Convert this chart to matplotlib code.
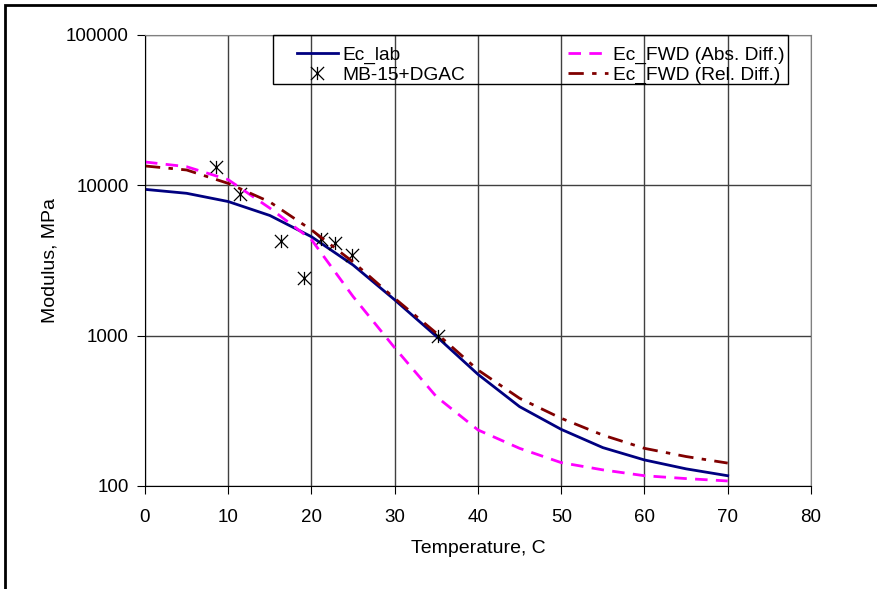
import matplotlib
matplotlib.use("Agg")
import matplotlib.pyplot as plt
from matplotlib.patches import Rectangle
from matplotlib.path import Path

plt.rcParams['font.family'] = ['Liberation Sans', 'DejaVu Sans']

temps = [0, 5, 10, 15, 20, 25, 30, 35, 40, 45, 50, 55, 60, 65, 70]
ec_lab = [9400, 8850, 7800, 6300, 4550, 2950, 1730, 990, 553, 337, 238, 180, 149, 130, 117]
ec_fwd_abs = [14300, 13300, 10900, 7050, 4350, 1820, 830, 393, 236, 178, 143, 128, 117, 112, 108]
ec_fwd_rel = [13450, 12650, 10300, 7750, 5050, 3090, 1770, 1040, 591, 383, 282, 218, 178, 157, 142]

mb_temp = [8.5, 11.4, 16.3, 19.1, 21.2, 22.8, 24.9, 35.2]
mb_mod = [13200, 8760, 4230, 2400, 4380, 4110, 3440, 995]

# excel style star: X with a vertical bar
star = Path([(-1, -1), (1, 1), (-1, 1), (1, -1), (0, -1), (0, 1)],
            [Path.MOVETO, Path.LINETO, Path.MOVETO, Path.LINETO, Path.MOVETO, Path.LINETO])

fig = plt.figure(figsize=(8.77, 5.89), dpi=100)
ax = fig.add_axes([0.1653, 0.1749, 0.7594, 0.7657])

# outer frame of the chart area
fig.patches.append(Rectangle((5 / 877, -0.1), 1.2, 1 - 5 / 589 + 0.1, transform=fig.transFigure,
                             fill=False, edgecolor='black', linewidth=2))

l1, = ax.plot(temps, ec_lab, color='#000080', lw=2, label='Ec_lab')
s1, = ax.plot(mb_temp, mb_mod, ls='none', marker=star, markersize=9.5, color='black',
              markeredgewidth=0.9, label='MB-15+DGAC')
l2, = ax.plot(temps, ec_fwd_abs, color='#FF00FF', lw=2, dashes=(4.5, 3), label='Ec_FWD (Abs. Diff.)')
l3, = ax.plot(temps, ec_fwd_rel, color='#800000', lw=2, dashes=(5.5, 3, 1.6, 3), label='Ec_FWD (Rel. Diff.)')

ax.set_yscale('log')
ax.set_xlim(0, 80)
ax.set_ylim(100, 100000)
ax.set_xticks(range(0, 81, 10))
ax.set_yticks([100, 1000, 10000, 100000])
ax.set_yticklabels(['100', '1000', '10000', '100000'])
ax.yaxis.set_minor_locator(matplotlib.ticker.NullLocator())
ax.grid(True, color='#404040', lw=1)
ax.set_axisbelow(True)
ax.tick_params(direction='out', length=6, labelsize=13.5, color='black')
ax.tick_params(axis='x', pad=10.5)
ax.tick_params(axis='y', pad=5.5)
for sp in ['top', 'right']:
    ax.spines[sp].set_color('#808080')
ax.set_xlabel('Temperature, C', fontsize=14, labelpad=10)
ax.set_ylabel('Modulus, MPa', fontsize=14, labelpad=5.8)

# legend box drawn separately, entries placed inside
ax.add_patch(Rectangle((0.1922, 0.8914), 0.7733, 0.1086, transform=ax.transAxes, fill=False,
                       edgecolor='black', lw=1, zorder=5, clip_on=False))
leg = ax.legend(handles=[l1, s1, l2, l3], ncol=2, loc='upper left', bbox_to_anchor=(0.2287, 0.9752),
                fontsize=13.8, frameon=False, borderaxespad=0, borderpad=0, handlelength=2.1,
                columnspacing=5.35, labelspacing=0.13, handletextpad=0.26)

fig.savefig('out.png', dpi=100)
